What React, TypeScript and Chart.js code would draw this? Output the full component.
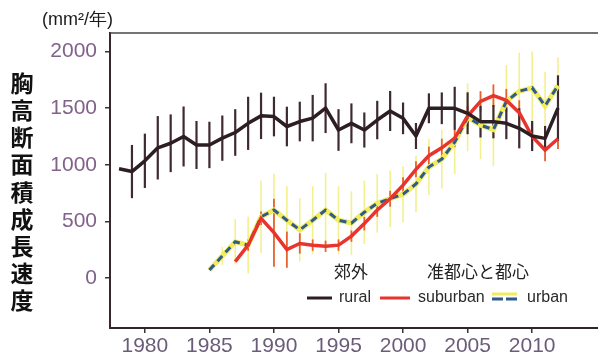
import { useEffect, useRef } from "react";
import { Chart, registerables } from "chart.js";

Chart.register(...registerables);

// ---- data ----
const ruralYears = [1978, 1979, 1980, 1981, 1982, 1983, 1984, 1985, 1986, 1987, 1988, 1989, 1990, 1991, 1992, 1993, 1994, 1995, 1996, 1997, 1998, 1999, 2000, 2001, 2002, 2003, 2004, 2005, 2006, 2007, 2008, 2009, 2010, 2011, 2012];
const ruralValues = [965, 940, 1035, 1150, 1190, 1250, 1175, 1175, 1235, 1285, 1366, 1432, 1426, 1338, 1382, 1412, 1500, 1307, 1366, 1307, 1395, 1475, 1410, 1254, 1499, 1499, 1499, 1455, 1381, 1381, 1366, 1322, 1254, 1233, 1500];
const ruralErrors = [0, 235, 240, 280, 255, 265, 212, 205, 200, 206, 235, 205, 175, 175, 175, 205, 220, 184, 176, 155, 170, 177, 140, 115, 132, 140, 190, 185, 140, 147, 140, 177, 133, 110, 290];

const suburbanYears = [1987, 1988, 1989, 1990, 1991, 1992, 1993, 1994, 1995, 1996, 1997, 1998, 1999, 2000, 2001, 2002, 2003, 2004, 2005, 2006, 2007, 2008, 2009, 2010, 2011, 2012];
const suburbanValues = [145, 290, 527, 400, 250, 305, 290, 280, 290, 370, 480, 600, 700, 820, 960, 1080, 1150, 1235, 1430, 1560, 1610, 1570, 1460, 1250, 1130, 1230];
const suburbanErrors = [0, 50, 60, 300, 160, 90, 50, 50, 50, 50, 60, 60, 70, 70, 70, 80, 80, 80, 90, 90, 100, 100, 110, 110, 100, 90];

const urbanYears = [1985, 1986, 1987, 1988, 1989, 1990, 1991, 1992, 1993, 1994, 1995, 1996, 1997, 1998, 1999, 2000, 2001, 2002, 2003, 2004, 2005, 2006, 2007, 2008, 2009, 2010, 2011, 2012];
const urbanValues = [70, 195, 320, 290, 540, 600, 510, 425, 510, 600, 510, 485, 580, 660, 700, 740, 830, 980, 1050, 1200, 1420, 1350, 1310, 1560, 1650, 1680, 1520, 1700];
const urbanErrors = [0, 80, 200, 250, 320, 320, 300, 280, 300, 330, 300, 280, 280, 260, 250, 250, 250, 250, 260, 280, 300, 300, 320, 320, 340, 320, 300, 250];

const xTickValues = [1980, 1985, 1990, 1995, 2000, 2005, 2010];
const yTickValues = [0, 500, 1000, 1500, 2000];

const seriesLabels = ["rural", "suburban", "urban"];
const groupHeadings = ["郊外", "准都心と都心"];
const yTitleChars = ["胸", "高", "断", "面", "積", "成", "長", "速", "度"];
const unitLabel = "(mm²/年)";

// ---- styles ----
const FONT = '"Liberation Sans", Arial, sans-serif';
const CJK = '"Noto Sans CJK JP", "Noto Sans CJK SC", sans-serif';
const RURAL = "#2c1e22";
const RURAL_BAR = "#3e2a31";
const RED = "#e8342c";
const RED_BAR = "#e5632e";
const BLUE = "#2f5b8c";
const YELLOW = "#f1ec5c";
const YELLOW_BAR = "#f4f08e";

const pts = (xs: number[], ys: number[]) => xs.map((x, i) => ({ x, y: ys[i] }));

export default function App() {
  const ref = useRef<HTMLCanvasElement>(null);

  useEffect(() => {
    if (!ref.current) return;

    const errorSeries = [
      { xs: urbanYears, vs: urbanValues, es: urbanErrors, color: YELLOW_BAR, width: 1.6 },
      { xs: suburbanYears, vs: suburbanValues, es: suburbanErrors, color: RED_BAR, width: 1.8 },
      { xs: ruralYears, vs: ruralValues, es: ruralErrors, color: RURAL_BAR, width: 2.2 },
    ];

    const errorBars = {
      id: "errorBars",
      beforeDatasetsDraw(chart: any) {
        const { ctx, chartArea, scales } = chart;
        const x = scales.x, y = scales.y;
        ctx.save();
        ctx.beginPath();
        ctx.rect(chartArea.left, chartArea.top, chartArea.right - chartArea.left, chartArea.bottom - chartArea.top);
        ctx.clip();
        for (const s of errorSeries) {
          ctx.strokeStyle = s.color;
          ctx.lineWidth = s.width;
          s.xs.forEach((yr, i) => {
            const e = s.es[i];
            if (!e) return;
            const px = x.getPixelForValue(yr);
            ctx.beginPath();
            ctx.moveTo(px, y.getPixelForValue(s.vs[i] - e));
            ctx.lineTo(px, y.getPixelForValue(s.vs[i] + e));
            ctx.stroke();
          });
        }
        ctx.restore();
      },
    };

    const decorations = {
      id: "decorations",
      afterDraw(chart: any) {
        const { ctx, chartArea } = chart;
        ctx.save();
        // top frame line
        ctx.strokeStyle = "#4a4446";
        ctx.lineWidth = 1.5;
        ctx.beginPath();
        ctx.moveTo(chartArea.left, chartArea.top);
        ctx.lineTo(chartArea.right, chartArea.top);
        ctx.stroke();

        // unit label
        ctx.fillStyle = "#1e1a1a";
        ctx.font = `18px ${FONT}`;
        ctx.textAlign = "left";
        ctx.textBaseline = "middle";
        ctx.fillText(unitLabel, 42, 20);

        // vertical y title
        ctx.font = `bold 23px ${CJK}`;
        ctx.textAlign = "center";
        ctx.fillStyle = "#111";
        yTitleChars.forEach((c, i) => {
          ctx.fillText(c, 22, 83 + i * 27.2);
        });

        // legend headings
        ctx.font = `17px ${CJK}`;
        ctx.fillStyle = "#222";
        ctx.fillText(groupHeadings[0], 351, 272);
        ctx.fillText(groupHeadings[1], 478, 272);

        // legend items
        ctx.lineCap = "butt";
        const ly = 298;
        ctx.strokeStyle = RURAL;
        ctx.lineWidth = 3;
        ctx.beginPath(); ctx.moveTo(307, ly); ctx.lineTo(332, ly); ctx.stroke();
        ctx.strokeStyle = RED;
        ctx.beginPath(); ctx.moveTo(380, ly); ctx.lineTo(410, ly); ctx.stroke();
        ctx.strokeStyle = YELLOW;
        ctx.beginPath(); ctx.moveTo(492, ly - 4); ctx.lineTo(517, ly - 4); ctx.stroke();
        ctx.strokeStyle = BLUE;
        ctx.setLineDash([11, 3]);
        ctx.beginPath(); ctx.moveTo(492, ly + 1); ctx.lineTo(517, ly + 1); ctx.stroke();
        ctx.setLineDash([]);

        ctx.font = `16px ${FONT}`;
        ctx.textAlign = "left";
        ctx.fillStyle = "#2a2a2a";
        ctx.fillText(seriesLabels[0], 339, ly);
        ctx.fillText(seriesLabels[1], 418, ly);
        ctx.fillText(seriesLabels[2], 527, ly);
        ctx.restore();
      },
    };

    const chart = new Chart(ref.current, {
      type: "line",
      data: {
        datasets: [
          {
            label: seriesLabels[1],
            data: pts(suburbanYears, suburbanValues),
            borderColor: RED,
            borderWidth: 3.5,
            pointRadius: 0,
            tension: 0,
            order: 1,
          },
          {
            label: seriesLabels[2],
            data: pts(urbanYears, urbanValues),
            borderColor: BLUE,
            borderWidth: 3,
            borderDash: [7, 5],
            pointRadius: 0,
            tension: 0,
            order: 2,
          },
          {
            label: seriesLabels[2] + "-halo",
            data: pts(urbanYears, urbanValues),
            borderColor: YELLOW,
            borderWidth: 5,
            pointRadius: 0,
            tension: 0,
            order: 3,
          },
          {
            label: seriesLabels[0],
            data: pts(ruralYears, ruralValues),
            borderColor: RURAL,
            borderWidth: 3.5,
            pointRadius: 0,
            tension: 0,
            borderJoinStyle: "round",
            order: 0,
          },
        ],
      },
      options: {
        animation: false,
        responsive: false,
        maintainAspectRatio: false,
        layout: { padding: { top: 33, left: 0, right: 0, bottom: 0 } },
        plugins: { legend: { display: false }, tooltip: { enabled: false } },
        scales: {
          x: {
            type: "linear",
            min: 1977.3,
            max: 2015.1,
            offset: false,
            afterBuildTicks: (s: any) => {
              s.ticks = xTickValues.map((v) => ({ value: v }));
            },
            afterFit: (s: any) => {
              s.height = 32;
            },
            ticks: {
              autoSkip: false,
              maxRotation: 0,
              padding: 1,
              color: "#6b5d7a",
              font: { size: 21, family: FONT },
              callback: (v: any) => String(v),
            },
            grid: { drawOnChartArea: false, drawTicks: true, tickLength: 5, color: "#3a3336", lineWidth: 1.5 },
            border: { display: true, color: "#2e2628", width: 2 },
          },
          y: {
            type: "linear",
            min: -442,
            max: 2164,
            afterBuildTicks: (s: any) => {
              s.ticks = yTickValues.map((v) => ({ value: v }));
            },
            afterFit: (s: any) => {
              s.width = 110;
            },
            ticks: {
              padding: 8,
              color: "#81628a",
              font: { size: 21, family: FONT },
              callback: (v: any) => String(v),
            },
            grid: { drawOnChartArea: false, drawTicks: true, tickLength: 5, color: "#3a3336", lineWidth: 1.5 },
            border: { display: true, color: "#3a2630", width: 2 },
          },
        },
      },
      plugins: [errorBars, decorations],
    });

    return () => chart.destroy();
  }, []);

  return (
    <div style={{ position: "fixed", left: 0, top: 0, width: 598, height: 360, background: "#fff" }}>
      <canvas ref={ref} width={598} height={360} style={{ display: "block" }} />
    </div>
  );
}
